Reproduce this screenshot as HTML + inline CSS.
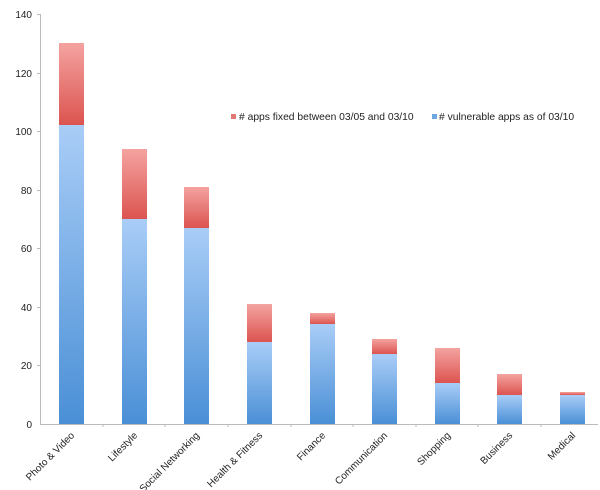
<!DOCTYPE html>
<html><head><meta charset="utf-8"><style>
html,body{margin:0;padding:0;background:#fff}
svg{display:block}
text{font-family:"Liberation Sans",sans-serif;fill:#222}
</style></head><body>
<svg width="600" height="490" viewBox="0 0 600 490" xmlns="http://www.w3.org/2000/svg">
<defs>
<linearGradient id="b" x1="0" y1="0" x2="0" y2="1"><stop offset="0" stop-color="#a9cdf7"/><stop offset="1" stop-color="#4a8fd6"/></linearGradient>
<linearGradient id="r" x1="0" y1="0" x2="0" y2="1"><stop offset="0" stop-color="#f4a3a0"/><stop offset="1" stop-color="#dc5450"/></linearGradient>
</defs>
<g stroke="#bbb" stroke-width="1" fill="none">
<line x1="40.5" y1="14" x2="40.5" y2="424"/>
<line x1="40" y1="424.5" x2="598" y2="424.5"/>
<line x1="37" y1="14.5" x2="40" y2="14.5"/><line x1="37" y1="73.5" x2="40" y2="73.5"/><line x1="37" y1="131.5" x2="40" y2="131.5"/><line x1="37" y1="190.5" x2="40" y2="190.5"/><line x1="37" y1="248.5" x2="40" y2="248.5"/><line x1="37" y1="307.5" x2="40" y2="307.5"/><line x1="37" y1="365.5" x2="40" y2="365.5"/>
<line x1="103" y1="424" x2="103" y2="427"/><line x1="165" y1="424" x2="165" y2="427"/><line x1="228" y1="424" x2="228" y2="427"/><line x1="291" y1="424" x2="291" y2="427"/><line x1="353" y1="424" x2="353" y2="427"/><line x1="416" y1="424" x2="416" y2="427"/><line x1="478" y1="424" x2="478" y2="427"/><line x1="541" y1="424" x2="541" y2="427"/>
</g>
<g font-size="10" text-anchor="end">
<text x="32" y="18">140</text><text x="32" y="77">120</text><text x="32" y="135">100</text><text x="32" y="194">80</text><text x="32" y="252">60</text><text x="32" y="311">40</text><text x="32" y="369">20</text><text x="32" y="428">0</text>
</g>
<g>
<rect x="59" y="125" width="25" height="299" fill="url(#b)"/><rect x="59" y="43" width="25" height="82" fill="url(#r)"/>
<rect x="122" y="219" width="25" height="205" fill="url(#b)"/><rect x="122" y="149" width="25" height="70" fill="url(#r)"/>
<rect x="184" y="228" width="25" height="196" fill="url(#b)"/><rect x="184" y="187" width="25" height="41" fill="url(#r)"/>
<rect x="247" y="342" width="25" height="82" fill="url(#b)"/><rect x="247" y="304" width="25" height="38" fill="url(#r)"/>
<rect x="310" y="324" width="25" height="100" fill="url(#b)"/><rect x="310" y="313" width="25" height="11" fill="url(#r)"/>
<rect x="372" y="354" width="25" height="70" fill="url(#b)"/><rect x="372" y="339" width="25" height="15" fill="url(#r)"/>
<rect x="435" y="383" width="25" height="41" fill="url(#b)"/><rect x="435" y="348" width="25" height="35" fill="url(#r)"/>
<rect x="497" y="395" width="25" height="29" fill="url(#b)"/><rect x="497" y="374" width="25" height="21" fill="url(#r)"/>
<rect x="560" y="395" width="25" height="29" fill="url(#b)"/><rect x="560" y="392" width="25" height="3" fill="url(#r)"/>
</g>
<g font-size="10" text-anchor="end">
<text transform="translate(75,436) rotate(-45)">Photo &amp; Video</text>
<text transform="translate(138,436) rotate(-45)">Lifestyle</text>
<text transform="translate(200,436) rotate(-45)">Social Networking</text>
<text transform="translate(263,436) rotate(-45)">Health &amp; Fitness</text>
<text transform="translate(326,436) rotate(-45)">Finance</text>
<text transform="translate(388,436) rotate(-45)">Communication</text>
<text transform="translate(451,436) rotate(-45)">Shopping</text>
<text transform="translate(513,436) rotate(-45)">Business</text>
<text transform="translate(576,436) rotate(-45)">Medical</text>
</g>
<rect x="231" y="114" width="5" height="5" fill="#e07874"/>
<text x="239" y="120" font-size="10.3" fill="#333"># apps fixed between 03/05 and 03/10</text>
<rect x="432" y="114" width="5" height="5" fill="#6ea6e0"/>
<text x="439" y="120" font-size="10.3" fill="#333"># vulnerable apps as of 03/10</text>
</svg>
</body></html>
